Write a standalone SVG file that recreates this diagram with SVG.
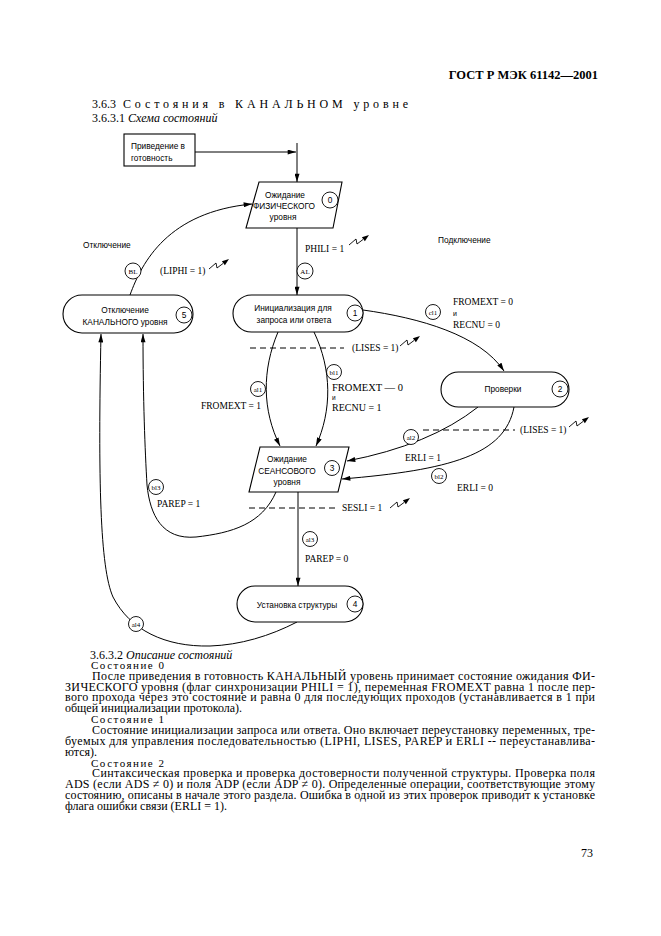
<svg xmlns="http://www.w3.org/2000/svg" xmlns:xlink="http://www.w3.org/1999/xlink" width="661" height="936" viewBox="0 0 661 936">
<style>
.ln{fill:none;stroke:#000;stroke-width:1}
.sh{fill:#fff;stroke:#000;stroke-width:1.1}
.nt{font-family:"Liberation Sans",Arial,sans-serif;font-size:8.3px;fill:#000}
.nc{font-family:"Liberation Sans",Arial,sans-serif;font-size:8.3px;fill:#000;text-anchor:middle}
.lb{font-family:"Liberation Serif","Times New Roman",serif;font-size:9.5px;fill:#000}
.ci{fill:#fff;stroke:#000;stroke-width:0.9}
.cl{font-family:"Liberation Serif","Times New Roman",serif;font-size:7px;fill:#000;text-anchor:middle}
.dl{fill:none;stroke:#000;stroke-width:1;stroke-dasharray:6 4}
.bt{font-family:"Liberation Serif","Times New Roman",serif;font-size:12px;fill:#000}
.sp{font-family:"Liberation Serif","Times New Roman",serif;font-size:11px;fill:#000}
.it{font-style:italic}
</style>
<defs>
<marker id="arr" viewBox="0 0 10 6" refX="10" refY="3" markerWidth="9" markerHeight="5" markerUnits="userSpaceOnUse" orient="auto">
<path d="M0,0 L10,3 L0,6 z" fill="#000"/>
</marker>
<g id="bolt">
<path d="M0,0 L7,-6 L8,-1 L14,-5.5" fill="none" stroke="#000" stroke-width="0.9"/>
<polygon points="20,-10 15.9,-3.8 12.9,-7.8" fill="#000"/>
</g>
</defs>

<!-- header -->
<text x="598" y="79" text-anchor="end" style="font-family:'Liberation Serif',serif;font-size:12.5px;font-weight:bold">ГОСТ Р МЭК 61142—2001</text>
<text class="bt" x="92" y="108">3.6.3</text>
<text class="bt" x="123" y="108" textLength="285" lengthAdjust="spacing">Состояния в КАНАЛЬНОМ уровне</text>
<text class="bt" x="92" y="122">3.6.3.1 <tspan class="it">Схема состояний</tspan></text>

<!-- connectors -->
<g id="connectors">
<path class="ln" d="M195 152 L296 152" marker-end="url(#arr)"/>
<path class="ln" d="M297 143 L297 182" marker-end="url(#arr)"/>
<path class="ln" d="M297 228 L297 295" marker-end="url(#arr)"/>
<path class="ln" d="M130 295 C142 262 168 212 252 204" marker-end="url(#arr)"/>
<path class="ln" d="M363 310 C420 318 480 335 504 371" marker-end="url(#arr)"/>
<path class="ln" d="M278 332 C262 370 262 410 280 446" marker-end="url(#arr)"/>
<path class="ln" d="M314 332 C332 370 332 410 316 446" marker-end="url(#arr)"/>
<path class="ln" d="M478 407 Q430 445 347 461" marker-end="url(#arr)"/>
<path class="ln" d="M514 407 C505 455 450 470 342 479" marker-end="url(#arr)"/>
<path class="ln" d="M298 492 L298 586" marker-end="url(#arr)"/>
<path class="ln" d="M276 492 C262 524 232 533 196 537 C162 540 150 515 147 485 C145 450 143 400 143 334" marker-end="url(#arr)"/>
<path class="ln" d="M297 622 C270 636 240 645 210 646 C165 647 130 630 113 597 C100 568 98 480 101 334" marker-end="url(#arr)"/>
<!-- dashed condition lines -->
<path class="dl" d="M250 348 L344 348"/>
<path class="dl" d="M423 430 L515 430"/>
<path class="dl" d="M249 508 L337 508"/>
<!-- bolts -->
<use xlink:href="#bolt" x="349" y="245"/>
<use xlink:href="#bolt" x="209" y="269"/>
<use xlink:href="#bolt" x="400" y="346"/>
<use xlink:href="#bolt" x="569" y="427"/>
<use xlink:href="#bolt" x="390" y="508"/>
<!-- transition label circles -->
<circle class="ci" cx="133" cy="271" r="8"/><text class="cl" x="133" y="273.5">BL</text>
<circle class="ci" cx="305" cy="271" r="8"/><text class="cl" x="305" y="273.5">AL</text>
<circle class="ci" cx="433" cy="312" r="7.5"/><text class="cl" x="433" y="314.5">cl1</text>
<circle class="ci" cx="258" cy="389" r="7.5"/><text class="cl" x="258" y="391.5">al1</text>
<circle class="ci" cx="334" cy="372" r="7.5"/><text class="cl" x="334" y="374.5">bl1</text>
<circle class="ci" cx="411" cy="437" r="7.5"/><text class="cl" x="411" y="439.5">al2</text>
<circle class="ci" cx="439" cy="476" r="7.5"/><text class="cl" x="439" y="478.5">bl2</text>
<circle class="ci" cx="156" cy="487" r="7.5"/><text class="cl" x="156" y="489.5">bl3</text>
<circle class="ci" cx="310" cy="539" r="7.5"/><text class="cl" x="310" y="541.5">al3</text>
<circle class="ci" cx="136" cy="624" r="7.5"/><text class="cl" x="136" y="626.5">al4</text>
<!-- condition labels -->
<text class="nt" x="83" y="248">Отключение</text>
<text class="nt" x="438" y="243">Подключение</text>
<text class="lb" x="305" y="252">PHILI = 1</text>
<text class="lb" x="160" y="274">(LIPHI = 1)</text>
<text class="lb" x="453" y="305">FROMEXT = 0</text>
<text class="nt" x="453" y="316" style="font-size:7px">и</text>
<text class="lb" x="453" y="328">RECNU = 0</text>
<text class="lb" x="352" y="351">(LISES = 1)</text>
<text class="lb" x="201" y="409">FROMEXT = 1</text>
<text class="lb" x="332" y="391" style="font-size:10.5px">FROMEXT — 0</text>
<text class="nt" x="332" y="400" style="font-size:6.5px">и</text>
<text class="lb" x="332" y="411" style="font-size:10px">RECNU = 1</text>
<text class="lb" x="405" y="461">ERLI = 1</text>
<text class="lb" x="520" y="433">(LISES = 1)</text>
<text class="lb" x="457" y="491">ERLI = 0</text>
<text class="lb" x="157" y="507">PAREP = 1</text>
<text class="lb" x="342" y="511">SESLI = 1</text>
<text class="lb" x="305" y="562">PAREP = 0</text>
</g>

<!-- nodes -->
<g id="start">
<rect class="sh" x="124" y="134" width="71" height="32"/>
<text class="nt" x="131" y="149">Приведение в</text>
<text class="nt" x="131" y="161">готовность</text>
</g>
<g id="s0">
<polygon class="sh" points="259,182 342,182 333,228 246,228"/>
<text class="nc" x="285" y="198">Ожидание</text>
<text class="nc" x="284" y="209">ФИЗИЧЕСКОГО</text>
<text class="nc" x="283" y="220">уровня</text>
<circle class="ci" cx="330" cy="200" r="8"/><text class="nc" x="330" y="203">0</text>
</g>
<g id="s1">
<rect class="sh" x="233" y="295" width="130" height="37" rx="18.5"/>
<text class="nc" x="293" y="311">Инициализация для</text>
<text class="nc" x="294" y="323">запроса или ответа</text>
<circle class="ci" cx="355" cy="313" r="8"/><text class="nc" x="355" y="316">1</text>
</g>
<g id="s2">
<rect class="sh" x="441" y="372" width="128" height="35" rx="17.5"/>
<text class="nc" x="503" y="392">Проверки</text>
<circle class="ci" cx="560" cy="389" r="8"/><text class="nc" x="560" y="392">2</text>
</g>
<g id="s3">
<polygon class="sh" points="260,447 349,447 338,492 249,492"/>
<text class="nc" x="287" y="462">Ожидание</text>
<text class="nc" x="287" y="474">СЕАНСОВОГО</text>
<text class="nc" x="287" y="485">уровня</text>
<circle class="ci" cx="332" cy="468" r="7.5"/><text class="nc" x="332" y="471">3</text>
</g>
<g id="s4">
<rect class="sh" x="237" y="586" width="126" height="36" rx="18"/>
<text class="nc" x="297" y="608">Установка структуры</text>
<circle class="ci" cx="355" cy="604" r="8"/><text class="nc" x="355" y="607">4</text>
</g>
<g id="s5">
<rect class="sh" x="63" y="295" width="130" height="38" rx="19"/>
<text class="nc" x="125" y="313">Отключение</text>
<text class="nc" x="125" y="325">КАНАЛЬНОГО уровня</text>
<circle class="ci" cx="184" cy="315" r="8"/><text class="nc" x="184" y="318">5</text>
</g>

<!-- body text -->
<text class="bt" x="90" y="659">3.6.3.2 <tspan class="it">Описание состояний</tspan></text>
<text class="sp" x="91" y="669" textLength="73" lengthAdjust="spacing">Состояние 0</text>
<text class="bt" x="92" y="680" textLength="503" lengthAdjust="spacing">После приведения в готовность КАНАЛЬНЫЙ уровень принимает состояние ожидания ФИ-</text>
<text class="bt" x="65" y="691" textLength="530" lengthAdjust="spacing">ЗИЧЕСКОГО уровня (флаг синхронизации PHILI = 1), переменная FROMEXT равна 1 после пер-</text>
<text class="bt" x="65" y="701" textLength="530" lengthAdjust="spacing">вого прохода через это состояние и равна 0 для последующих проходов (устанавливается в 1 при</text>
<text class="bt" x="65" y="712">общей инициализации протокола).</text>
<text class="sp" x="91" y="723" textLength="73" lengthAdjust="spacing">Состояние 1</text>
<text class="bt" x="92" y="734" textLength="503" lengthAdjust="spacing">Состояние инициализации запроса или ответа. Оно включает переустановку переменных, тре-</text>
<text class="bt" x="65" y="745" textLength="530" lengthAdjust="spacing">буемых для управления последовательностью (LIPHI, LISES, PAREP и ERLI -- переустанавлива-</text>
<text class="bt" x="65" y="756">ются).</text>
<text class="sp" x="91" y="767" textLength="73" lengthAdjust="spacing">Состояние 2</text>
<text class="bt" x="92" y="777" textLength="503" lengthAdjust="spacing">Синтаксическая проверка и проверка достоверности полученной структуры. Проверка поля</text>
<text class="bt" x="65" y="788" textLength="530" lengthAdjust="spacing">ADS (если ADS ≠ 0) и поля ADP (если ADP ≠ 0). Определенные операции, соответствующие этому</text>
<text class="bt" x="65" y="799" textLength="530" lengthAdjust="spacing">состоянию, описаны в начале этого раздела. Ошибка в одной из этих проверок приводит к установке</text>
<text class="bt" x="65" y="810">флага ошибки связи (ERLI = 1).</text>
<text class="bt" x="593" y="857" text-anchor="end">73</text>
</svg>
